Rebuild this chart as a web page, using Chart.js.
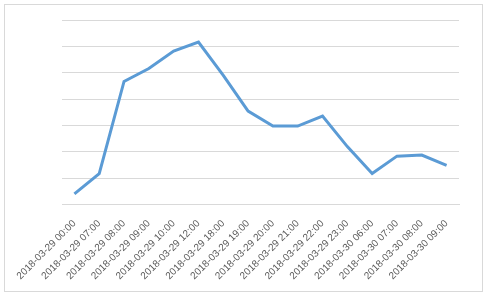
<!DOCTYPE html>
<html>
<head>
<meta charset="utf-8">
<script src="https://cdn.jsdelivr.net/npm/chart.js@4"></script>
<style>
  html, body { margin: 0; padding: 0; background: #fff; }
  #wrap { width: 485px; height: 295px; }
</style>
</head>
<body>
<div id="wrap"><canvas id="chartCanvas" width="485" height="295"></canvas></div>
<script>
// time stamps on the x axis
const labels = [
    '2018-03-29 00:00', '2018-03-29 07:00', '2018-03-29 08:00', '2018-03-29 09:00',
    '2018-03-29 10:00', '2018-03-29 12:00', '2018-03-29 18:00', '2018-03-29 19:00',
    '2018-03-29 20:00', '2018-03-29 21:00', '2018-03-29 22:00', '2018-03-29 23:00',
    '2018-03-30 06:00', '2018-03-30 07:00', '2018-03-30 08:00', '2018-03-30 09:00'
];
// values (no y labels shown, so unit is one gridline)
const values = [0.41, 1.18, 4.67, 5.16, 5.82, 6.16, 4.90, 3.55, 2.98, 2.98, 3.36, 2.20, 1.18, 1.84, 1.88, 1.49];
const yMin = 0;
const yMax = 7;

// white background + thin grey frame round the whole chart
const frame = {
    id: 'frame',
    beforeDraw(chart) {
        const c = chart.ctx;
        c.save();
        c.fillStyle = '#fff';
        c.fillRect(0, 0, chart.width, chart.height);
        c.strokeStyle = '#d9d9d9';
        c.lineWidth = 1;
        c.strokeRect(4.5, 4.5, chart.width - 7, chart.height - 8);
        c.restore();
    }
};

const ctx = document.getElementById('chartCanvas');
new Chart(ctx, {
    type: 'line',
    data: {
        labels: labels,
        datasets: [{
            data: values,
            borderColor: '#5b9bd5',
            borderWidth: 3,
            pointRadius: 0,
            tension: 0,
            fill: false
        }]
    },
    options: {
        responsive: false,
        animation: false,
        layout: { padding: { left: 62, right: 26, top: 20, bottom: 8 } },
        plugins: { legend: { display: false }, tooltip: { enabled: false } },
        scales: {
            x: {
                offset: true,
                grid: { display: false },
                border: { color: '#d9d9d9' },
                ticks: {
                    autoSkip: false,
                    minRotation: 45,
                    maxRotation: 45,
                    color: '#595959',
                    font: { family: 'Liberation Sans', size: 10 },
                    padding: 5
                }
            },
            y: {
                min: yMin,
                max: yMax,
                ticks: { stepSize: 1, display: false },
                grid: { color: '#d9d9d9', drawTicks: false },
                border: { display: false }
            }
        }
    },
    plugins: [frame]
});
</script>
</body>
</html>
